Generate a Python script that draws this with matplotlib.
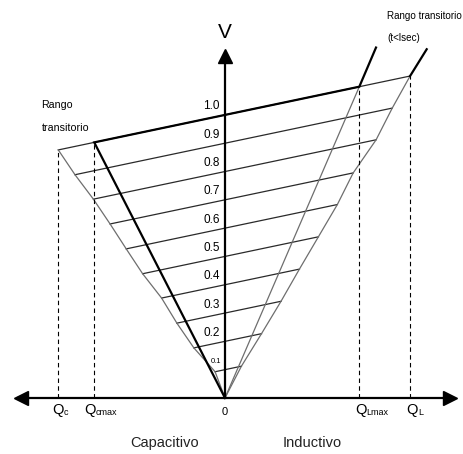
import numpy as np
import matplotlib
matplotlib.use("Agg")
import matplotlib.pyplot as plt

# voltage levels (p.u.) of the sloped constant-V lines
levels = [0.1, 0.2, 0.3, 0.4, 0.5, 0.6, 0.7, 0.8, 0.9, 1.0]
level_labels = ['0.1', '0.2', '0.3', '0.4', '0.5', '0.6', '0.7', '0.8', '0.9', '1.0']
slope = 0.21  # rise of each V line per unit of Q

# left (capacitive) and right (inductive) end of each V line, Q units
q_left = [-0.035, -0.110, -0.170, -0.224, -0.291, -0.349, -0.406, -0.465, -0.530, -0.589]
q_right = [0.058, 0.129, 0.198, 0.263, 0.330, 0.397, 0.453, 0.534, 0.591, 0.654]

# operating limits on the 1.0 line
q_cmax = -0.462
q_lmax = 0.4746
# ends of the transient-range extensions (Q, V)
ext_lmax = (0.5336, 1.238)
ext_l = (0.7127, 1.232)

q_names = ['Q', 'Q', 'Q', 'Q']
q_subs = ['c', 'cmax', 'Lmax', 'L']
q_label_x = [-0.612, -0.498, 0.459, 0.642]

levels = np.array(levels)
q_left = np.array(q_left)
q_right = np.array(q_right)
v_left = levels + slope * q_left
v_right = levels + slope * q_right

regular = ['Liberation Sans', 'DejaVu Sans']

fig = plt.figure(figsize=(4.63, 4.54), dpi=100)
ax = fig.add_axes([0, 0, 1, 1])
ax.set_xlim(-0.795, 0.841)
ax.set_ylim(-0.198, 1.406)
ax.axis('off')

# constant-V lines
for k in range(len(levels)):
    ax.plot([q_left[k], q_right[k]], [v_left[k], v_right[k]], color='#2a2a2a', lw=0.9)

# outer boundaries through the line ends
ax.plot(np.r_[0, q_left], np.r_[0, v_left], color='#6e6e6e', lw=0.9)
ax.plot(np.r_[0, q_right], np.r_[0, v_right], color='#6e6e6e', lw=0.9)

# inner inductive limit
v_lmax = 1.0 + slope * q_lmax
v_cmax = 1.0 + slope * q_cmax
ax.plot([0, q_lmax], [0, v_lmax], color='#6e6e6e', lw=0.9)

# thick operating characteristic
ax.plot([0, q_cmax, q_lmax, ext_lmax[0]], [0, v_cmax, v_lmax, ext_lmax[1]],
        color='black', lw=1.6, solid_joinstyle='miter')
ax.plot([q_right[-1], ext_l[0]], [v_right[-1], ext_l[1]], color='black', lw=1.6)

# dashed drop lines
for q, v in [(q_left[-1], v_left[-1]), (q_cmax, v_cmax), (q_lmax, v_lmax), (q_right[-1], v_right[-1])]:
    ax.plot([q, q], [0, v], color='black', lw=0.8, linestyle=(0, (4, 3)))

# axes with arrow heads
ax.plot([-0.73, 0.79], [0, 0], color='black', lw=1.6)
ax.plot([0, 0], [0, 1.2], color='black', lw=1.6)
ax.plot([-0.7216], [0], marker='<', ms=10.5, color='black')
ax.plot([0.795], [0], marker='>', ms=10.5, color='black')
ax.plot([0], [1.207], marker='^', ms=10, color='black')

# texts
ax.text(0, 1.29, 'V', ha='center', va='center', fontsize=15, family=regular)
ax.text(0, -0.05, '0', ha='center', va='center', fontsize=8, family=regular)
for k, lab in enumerate(level_labels):
    small = lab == '0.1'
    ax.text(-0.012 if small else -0.018, levels[k] + 0.03, lab, ha='right', va='center',
            fontsize=5.5 if small else 8.5, family=regular)

for x, name, sub in zip(q_label_x, q_names, q_subs):
    t = ax.text(x, -0.043, name, ha='left', va='center', fontsize=10.5, family=regular)
    ax.annotate(sub, xy=(1.0, 0.0), xycoords=t, ha='left', va='bottom',
                fontsize=6.5, family=regular)

ax.text(-0.2145, -0.160, 'Capacitivo', ha='center', va='center', fontsize=10.5,
        family=regular, color='#222222')
ax.text(0.3085, -0.160, 'Inductivo', ha='center', va='center', fontsize=10.5,
        family=regular, color='#222222')

ax.text(-0.648, 1.035, 'Rango', ha='left', va='center', fontsize=7.7, family=regular)
ax.text(-0.648, 0.953, 'transitorio', ha='left', va='center', fontsize=7.7, family=regular)
ax.text(0.5714, 1.35, 'Rango transitorio', ha='left', va='center', fontsize=7.1, family=regular)
ax.text(0.5750, 1.271, '(t<lsec)', ha='left', va='center', fontsize=7.1, family=regular)

fig.savefig('out.png', dpi=100)
